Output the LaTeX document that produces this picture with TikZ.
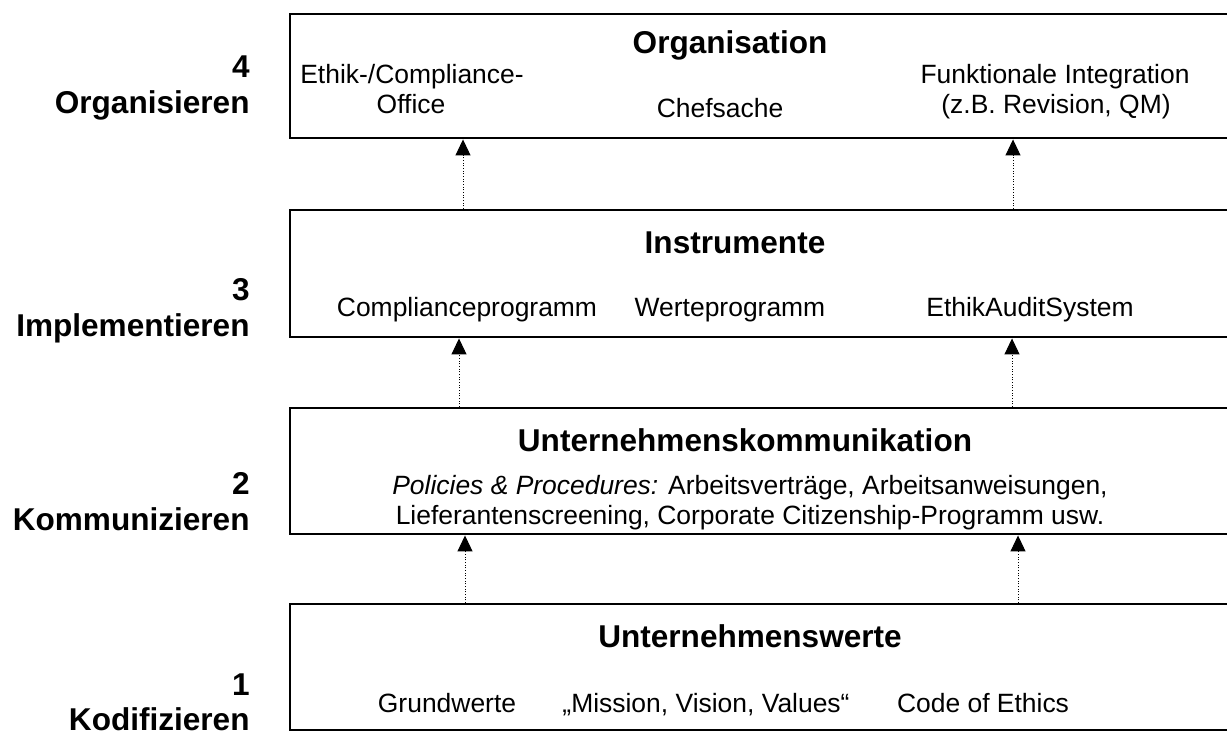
\documentclass[tikz,border=0pt]{standalone}
\usepackage{fontspec}
\setmainfont{Liberation Sans}
\usetikzlibrary{arrows.meta}
\begin{document}
\begin{tikzpicture}[x=0.45pt,y=-0.45pt,
  boxst/.style={draw, line width=1.1pt, minimum width=427.95pt, inner sep=0pt, anchor=north west},
  lab/.style={font=\fontsize{14.2}{17}\selectfont\bfseries, anchor=base east, inner sep=0pt},
  ttl/.style={font=\fontsize{14.2}{17}\selectfont\bfseries, anchor=base, inner sep=0pt},
  txt/.style={font=\fontsize{11.9}{14}\selectfont, anchor=base, inner sep=0pt},
  arr/.style={line width=0.45pt, dash pattern=on 0.5pt off 0.7pt, -{Triangle[width=6.75pt,length=7.2pt]}}]
\useasboundingbox (0,0) rectangle (1227,736);
% boxes
\node[boxst, minimum height=55.8pt] (b4) at (289,13) {};
\node[boxst, minimum height=57.15pt] (b3) at (289,209) {};
\node[boxst, minimum height=56.7pt] (b2) at (289,407) {};
\node[boxst, minimum height=56.7pt] (b1) at (289,603) {};
% left labels
\node[lab] (n4) at (250,77) {4};
\node[lab] (l4) at (250,113) {Organisieren};
\node[lab] (n3) at (250,300) {3};
\node[lab] (l3) at (250,336) {Implementieren};
\node[lab] (n2) at (250,494) {2};
\node[lab] (l2) at (250,530) {Kommunizieren};
\node[lab] (n1) at (250,695) {1};
\node[lab] (l1) at (250,730) {Kodifizieren};
% box 4
\node[ttl] (t4) at (730,53) {Organisation};
\node[txt] (e4a) at (412,83) {Ethik-/Compliance-};
\node[txt] (e4b) at (411,113) {Office};
\node[txt] (c4) at (720,117) {Chefsache};
\node[txt] (f4a) at (1055,83) {Funktionale Integration};
\node[txt] (f4b) at (1056,113) {(z.B. Revision, QM)};
% box 3
\node[ttl] (t3) at (735,253) {Instrumente};
\node[txt] (p3a) at (467,316) {Complianceprogramm};
\node[txt] (p3b) at (730,316) {Werteprogramm};
\node[txt] (p3c) at (1030,316) {EthikAuditSystem};
% box 2
\node[ttl] (t2) at (745,451) {Unternehmenskommunikation};
\node[txt] (p2a) at (750,494) {{\itshape Policies \& Procedures:} Arbeitsverträge, Arbeitsanweisungen,};
\node[txt] (p2b) at (750,524) {Lieferantenscreening, Corporate Citizenship-Programm usw.};
% box 1
\node[ttl] (t1) at (750,647) {Unternehmenswerte};
\node[txt] (p1a) at (447,712) {Grundwerte};
\node[txt] (p1b) at (706,712) {„Mission, Vision, Values“};
\node[txt] (p1c) at (983,712) {Code of Ethics};
% arrow columns
\coordinate (a1l) at (465,0);
\coordinate (a1r) at (1018,0);
\coordinate (a2l) at (459,0);
\coordinate (a2r) at (1012,0);
\coordinate (a3l) at (463,0);
\coordinate (a3r) at (1013,0);
\draw[arr] (a1l |- b1.north) -- (a1l |- b2.south);
\draw[arr] (a1r |- b1.north) -- (a1r |- b2.south);
\draw[arr] (a2l |- b2.north) -- (a2l |- b3.south);
\draw[arr] (a2r |- b2.north) -- (a2r |- b3.south);
\draw[arr] (a3l |- b3.north) -- (a3l |- b4.south);
\draw[arr] (a3r |- b3.north) -- (a3r |- b4.south);
\end{tikzpicture}
\end{document}
